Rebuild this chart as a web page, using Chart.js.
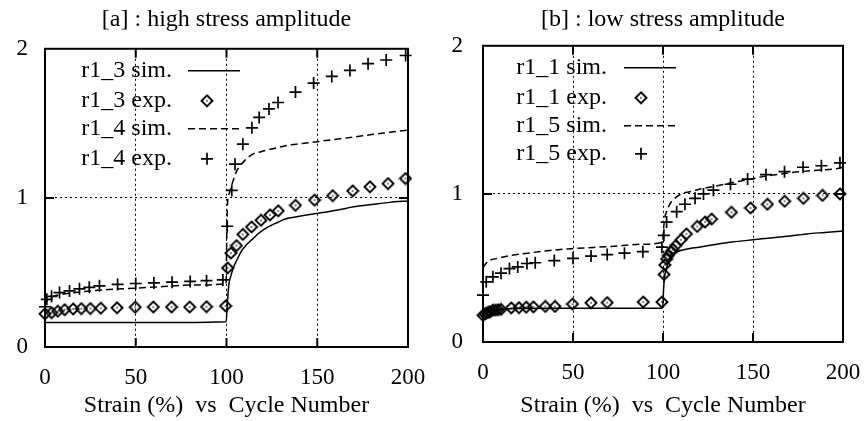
<!DOCTYPE html>
<html>
<head>
<meta charset="utf-8">
<script src="https://cdn.jsdelivr.net/npm/chart.js@4.4.0/dist/chart.umd.min.js"></script>
<style>
  body { margin: 0; background: #fff; }
  .panel { position: absolute; top: 0; width: 433px; height: 421px; }
  #left { left: 0; }
  #right { left: 433px; }
</style>
</head>
<body>
<div class="panel" id="left"><canvas id="chartA" width="433" height="421"></canvas></div>
<div class="panel" id="right"><canvas id="chartB" width="433" height="421"></canvas></div>
<script>
// ---- data, panel [a] high stress amplitude ----
const r13SimX = [0, 5, 25, 50, 75, 99.8, 100.5, 101.3, 102.5, 103.7, 106, 108.3, 111, 114, 118, 123, 128, 132, 138, 144, 152, 162, 170, 180, 190, 200];
const r13SimY = [0.165, 0.165, 0.165, 0.165, 0.165, 0.17, 0.3, 0.42, 0.48, 0.53, 0.59, 0.645, 0.685, 0.72, 0.765, 0.805, 0.835, 0.857, 0.872, 0.885, 0.9, 0.92, 0.94, 0.955, 0.97, 0.98];
const r13ExpX = [0, 3.6, 7, 10.8, 15.5, 20, 25, 30.7, 39.7, 49.7, 59.7, 69.7, 79.7, 89, 99.5, 100.6, 102.4, 105.5, 109, 113.8, 119, 124, 128.5, 138, 148.5, 158.5, 169.5, 179, 189, 198.6];
const r13ExpY = [0.223, 0.23, 0.24, 0.25, 0.255, 0.257, 0.258, 0.26, 0.263, 0.267, 0.268, 0.268, 0.268, 0.27, 0.275, 0.53, 0.63, 0.68, 0.755, 0.805, 0.85, 0.886, 0.913, 0.95, 0.985, 1.015, 1.047, 1.074, 1.096, 1.13];
const r14SimX = [0, 1, 3, 6, 10, 20, 35, 50, 65, 80, 99.8, 100.1, 100.5, 101.5, 103, 105.6, 110, 114, 119, 125.5, 135, 147.5, 158, 169.5, 180, 190, 200];
const r14SimY = [0.28, 0.31, 0.33, 0.345, 0.355, 0.37, 0.385, 0.395, 0.405, 0.415, 0.425, 0.7, 0.95, 1.03, 1.09, 1.18, 1.25, 1.29, 1.31, 1.33, 1.355, 1.373, 1.39, 1.407, 1.425, 1.44, 1.455];
const r14ExpX = [0, 1, 3.6, 8, 13.5, 19, 24.4, 30, 40, 50, 60, 70, 80, 89, 98, 100.4, 102.9, 104.7, 109, 114, 118, 123.4, 128.4, 138, 148, 158, 168, 178, 188, 198.7];
const r14ExpY = [0.27, 0.32, 0.34, 0.365, 0.376, 0.39, 0.4, 0.41, 0.42, 0.426, 0.43, 0.435, 0.44, 0.445, 0.45, 0.81, 1.05, 1.226, 1.36, 1.47, 1.54, 1.597, 1.64, 1.71, 1.77, 1.815, 1.855, 1.9, 1.925, 1.955];

// ---- data, panel [b] low stress amplitude ----
const r11SimX = [0, 0.5, 2, 5, 10, 20, 40, 60, 80, 99.8, 100.3, 101, 102, 103, 104.6, 107, 110.3, 115, 120, 130, 138.4, 150, 166.5, 180, 190, 200];
const r11SimY = [0.17, 0.18, 0.2, 0.215, 0.222, 0.227, 0.228, 0.228, 0.228, 0.23, 0.35, 0.45, 0.5, 0.545, 0.59, 0.605, 0.62, 0.632, 0.64, 0.66, 0.675, 0.69, 0.71, 0.73, 0.74, 0.75];
const r11ExpX = [0, 1, 2, 3, 4, 5.5, 7, 8.5, 10, 15.7, 20, 24, 28, 34.6, 40, 49.7, 60, 69, 89, 99.4, 100.6, 101, 102, 103, 104.6, 105.5, 107, 110, 113, 119, 123.4, 127, 138, 148.6, 158, 167.6, 178, 188.6, 198.3];
const r11ExpY = [0.18, 0.19, 0.195, 0.2, 0.205, 0.215, 0.215, 0.218, 0.22, 0.23, 0.232, 0.235, 0.237, 0.24, 0.24, 0.256, 0.265, 0.266, 0.27, 0.27, 0.456, 0.52, 0.56, 0.585, 0.61, 0.625, 0.65, 0.69, 0.73, 0.78, 0.81, 0.83, 0.876, 0.905, 0.93, 0.95, 0.97, 0.99, 1.0];
const r15SimX = [0, 1, 2.8, 8, 15.7, 25, 34.5, 49, 71, 89, 99.8, 100.2, 100.6, 101, 102, 103.7, 106, 110.3, 115, 119.7, 128, 138, 147, 157, 166, 176, 186, 196.5, 200];
const r15SimY = [0.5, 0.52, 0.545, 0.565, 0.585, 0.6, 0.615, 0.63, 0.645, 0.66, 0.675, 0.75, 0.8, 0.84, 0.88, 0.93, 0.965, 1.0, 1.015, 1.03, 1.05, 1.075, 1.095, 1.12, 1.135, 1.15, 1.16, 1.17, 1.18];
const r15ExpX = [0, 1.8, 5.5, 10, 14.7, 19.3, 24.4, 29, 39.6, 50, 60, 69, 78.6, 88.8, 99.4, 100.5, 102, 107.6, 112.2, 117.8, 122.5, 128, 137.5, 147, 157.2, 167.5, 177.8, 188, 198.3];
const r15ExpY = [0.316, 0.406, 0.44, 0.465, 0.496, 0.507, 0.53, 0.535, 0.55, 0.565, 0.58, 0.59, 0.6, 0.61, 0.64, 0.72, 0.81, 0.88, 0.93, 0.97, 1.0, 1.025, 1.065, 1.1, 1.13, 1.15, 1.18, 1.19, 1.21];

const xTicks = [0, 50, 100, 150, 200];
const yTicks = [0, 1, 2];
const xAxisTitle = 'Strain (%)  vs  Cycle Number';

const SERIF = "'Liberation Serif', 'Times New Roman', serif";

// diamond with a dot in the middle, used as point style
function makeDiamond() {
    const c = document.createElement('canvas');
    c.width = 14; c.height = 14;
    const g = c.getContext('2d');
    g.strokeStyle = '#000';
    g.lineWidth = 1.9;
    g.beginPath();
    g.moveTo(7, 1.5); g.lineTo(12.5, 7); g.lineTo(7, 12.5); g.lineTo(1.5, 7); g.closePath();
    g.stroke();
    g.fillStyle = '#000';
    g.fillRect(6.3, 6.3, 1.4, 1.4);
    return c;
}
const diamond = makeDiamond();

function pts(xs, ys) {
    return xs.map((x, i) => ({ x: x, y: ys[i] }));
}

function simSet(label, xs, ys, dash) {
    return {
        label: label, data: pts(xs, ys), showLine: true,
        borderColor: '#000', borderWidth: 1.5, borderDash: dash,
        pointRadius: 0, cubicInterpolationMode: 'monotone', clip: false
    };
}
function expSet(label, xs, ys, style) {
    return {
        label: label, data: pts(xs, ys), showLine: false,
        pointStyle: style === 'diamond' ? diamond : 'cross',
        pointRadius: 6, borderColor: '#000', borderWidth: 1.7, clip: false
    };
}

// frame, inner tick marks and the gnuplot style key
const framePlugin = {
    id: 'frameKey',
    afterDraw(chart, args, opts) {
        const ctx = chart.ctx;
        const a = chart.chartArea;
        const xs = chart.scales.x, ys = chart.scales.y;
        ctx.save();
        ctx.strokeStyle = '#000';
        ctx.lineWidth = 2;
        ctx.strokeRect(a.left, a.top, a.right - a.left, a.bottom - a.top);
        // inner tick marks
        xTicks.slice(1, -1).forEach(v => {
            const px = xs.getPixelForValue(v);
            ctx.beginPath();
            ctx.moveTo(px, a.bottom); ctx.lineTo(px, a.bottom - 9);
            ctx.moveTo(px, a.top); ctx.lineTo(px, a.top + 9);
            ctx.stroke();
        });
        yTicks.slice(1, -1).forEach(v => {
            const py = ys.getPixelForValue(v);
            ctx.beginPath();
            ctx.moveTo(a.left, py); ctx.lineTo(a.left + 9, py);
            ctx.moveTo(a.right, py); ctx.lineTo(a.right - 9, py);
            ctx.stroke();
        });

        // key
        ctx.font = '24px ' + SERIF;
        ctx.fillStyle = '#000';
        ctx.textAlign = 'right';
        ctx.textBaseline = 'middle';
        chart.data.datasets.forEach((ds, i) => {
            const y = a.top + opts.rows[i];
            ctx.fillText(ds.label, a.left + opts.textRight, y);
            if (ds.showLine) {
                ctx.lineWidth = ds.borderWidth;
                ctx.setLineDash(ds.borderDash || []);
                ctx.beginPath();
                ctx.moveTo(a.left + opts.sampleFrom, y);
                ctx.lineTo(a.left + opts.sampleTo, y);
                ctx.stroke();
                ctx.setLineDash([]);
            } else {
                const mx = a.left + opts.marker;
                if (ds.pointStyle === diamond) {
                    ctx.drawImage(diamond, mx - 7, y - 7);
                } else {
                    ctx.lineWidth = ds.borderWidth;
                    ctx.beginPath();
                    ctx.moveTo(mx - 6, y); ctx.lineTo(mx + 6, y);
                    ctx.moveTo(mx, y - 6); ctx.lineTo(mx, y + 6);
                    ctx.stroke();
                }
            }
        });
        ctx.restore();
    }
};

function makeChart(id, title, datasets, box) {
    const boundColor = (max) => (c) => (c.tick.value === 0 || c.tick.value === max) ? 'rgba(0,0,0,0)' : '#000';
    return new Chart(document.getElementById(id), {
        type: 'scatter',
        data: { datasets: datasets },
        options: {
            responsive: false,
            animation: false,
            events: [],
            layout: { padding: { left: 0, right: box.padRight, top: 0, bottom: 0 } },
            plugins: {
                legend: { display: false },
                tooltip: { enabled: false },
                title: {
                    display: true, text: title, fullSize: false, color: '#000',
                    font: { family: SERIF, size: 24, weight: 'normal' },
                    padding: { top: 5, bottom: box.titleBottom }
                },
                frameKey: box.key
            },
            scales: {
                x: {
                    type: 'linear', min: 0, max: 200,
                    afterBuildTicks: s => { s.ticks = xTicks.map(v => ({ value: v })); },
                    afterFit: s => { s.height = box.axisHeight; },
                    // tick marks are invisible, their length only pushes the labels down
                    grid: { color: boundColor(200), lineWidth: 1, drawTicks: true, tickLength: 14, tickColor: 'rgba(0,0,0,0)' },
                    border: { display: false, dash: [2, 3] },
                    ticks: { color: '#000', padding: 3, font: { family: SERIF, size: 23 } },
                    title: {
                        display: true, text: xAxisTitle, color: '#000',
                        font: { family: SERIF, size: 24 }, padding: { top: 0, bottom: 1 }
                    }
                },
                y: {
                    type: 'linear', min: 0, max: 2,
                    afterBuildTicks: s => { s.ticks = yTicks.map(v => ({ value: v })); },
                    afterFit: s => { s.width = box.axisWidth; },
                    grid: { color: boundColor(2), lineWidth: 1, drawTicks: false },
                    border: { display: false, dash: [2, 3] },
                    ticks: { color: '#000', padding: box.yPad, font: { family: SERIF, size: 23 } }
                }
            }
        },
        plugins: [framePlugin]
    });
}

makeChart('chartA', '[a] : high stress amplitude', [
    simSet('r1_3 sim.', r13SimX, r13SimY, []),
    expSet('r1_3 exp.', r13ExpX, r13ExpY, 'diamond'),
    simSet('r1_4 sim.', r14SimX, r14SimY, [7, 4]),
    expSet('r1_4 exp.', r14ExpX, r14ExpY, 'cross')
], {
    padRight: 25, axisWidth: 45, axisHeight: 74, titleBottom: 15, yPad: 17,
    key: { textRight: 127, rows: [22, 52, 80, 110], sampleFrom: 143, sampleTo: 195, marker: 162 }
});

makeChart('chartB', '[b] : low stress amplitude', [
    simSet('r1_1 sim.', r11SimX, r11SimY, []),
    expSet('r1_1 exp.', r11ExpX, r11ExpY, 'diamond'),
    simSet('r1_5 sim.', r15SimX, r15SimY, [7, 4]),
    expSet('r1_5 exp.', r15ExpX, r15ExpY, 'cross')
], {
    padRight: 23, axisWidth: 50, axisHeight: 79, titleBottom: 12, yPad: 20,
    key: { textRight: 124, rows: [22, 52, 80, 108], sampleFrom: 141, sampleTo: 193, marker: 158 }
});
</script>
</body>
</html>
